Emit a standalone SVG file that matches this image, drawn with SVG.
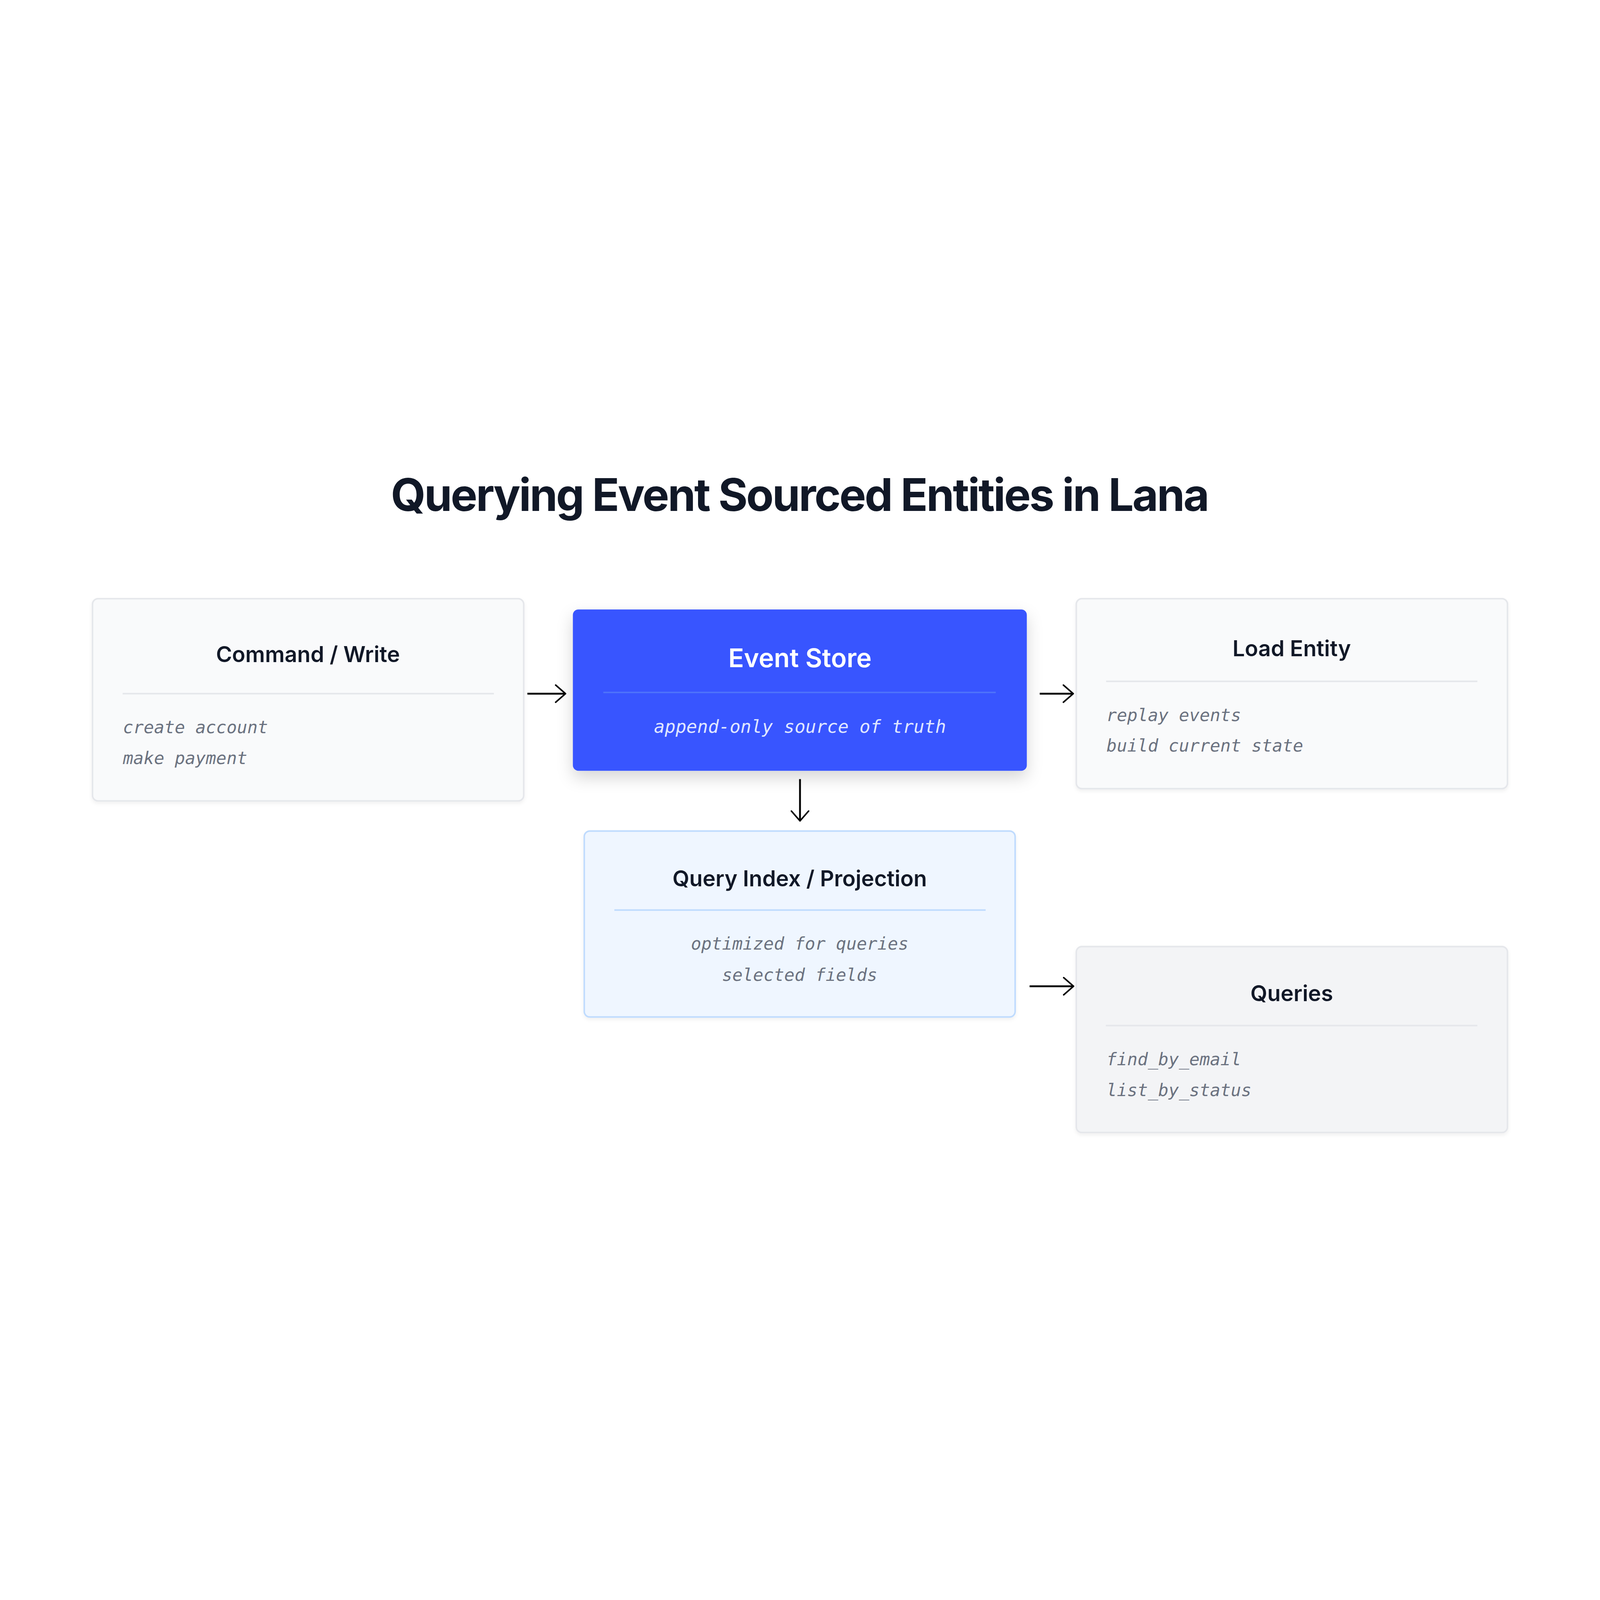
<svg xmlns="http://www.w3.org/2000/svg" width="5206" height="4096" viewBox="0 0 5206 4096" preserveAspectRatio="xMidYMid meet" style="width:100vw;height:100vh;display:block">
  <style>
    .title { font-family: Inter, "Liberation Sans", sans-serif; font-weight: 700; font-size: 146px; fill: #111827; letter-spacing: -4.8px; }
    .ntitle { font-family: Inter, "Liberation Sans", sans-serif; font-weight: 600; font-size: 71px; fill: #111827; text-anchor: middle; }
    .item { font-family: "DejaVu Sans Mono", "Liberation Mono", monospace; font-style: italic; font-size: 56px; fill: #6b7280; }
    .card { fill: #f9fafb; stroke: #e5e7eb; stroke-width: 5; }
    .div { stroke: #e5e7eb; stroke-width: 5; }
    .conn { stroke: #000000; stroke-width: 6; fill: none; }
    .head { stroke: #000000; stroke-width: 5; fill: none; stroke-linecap: round; stroke-linejoin: round; }
  </style>
  <defs>
    <filter id="sh" x="-10%" y="-10%" width="120%" height="130%">
      <feDropShadow dx="0" dy="6" stdDeviation="6" flood-color="#000000" flood-opacity="0.06"/>
    </filter>
    <filter id="shBig" x="-15%" y="-20%" width="130%" height="150%">
      <feDropShadow dx="0" dy="22" stdDeviation="26" flood-color="#000000" flood-opacity="0.16"/>
    </filter>
  </defs>
  <rect x="0" y="0" width="5206" height="4096" fill="#ffffff"/>

  <text class="title" x="2601" y="1108" text-anchor="middle">Querying Event Sourced Entities in Lana</text>

  <g id="connectors">
    <line class="conn" x1="1716" y1="1702" x2="1838" y2="1702"/>
    <polyline class="head" points="1808,1674 1840,1702 1808,1730"/>
    <line class="conn" x1="3383" y1="1702" x2="3490" y2="1702"/>
    <polyline class="head" points="3460,1674 3492,1702 3460,1730"/>
    <line class="conn" x1="2603" y1="1980" x2="2603" y2="2114"/>
    <polyline class="head" points="2575,2084 2603,2116 2631,2084"/>
    <line class="conn" x1="3350" y1="2654" x2="3491" y2="2654"/>
    <polyline class="head" points="3461,2626 3493,2654 3461,2682"/>
  </g>

  <g id="command-write">
    <rect class="card" x="301" y="1393" width="1403" height="658" rx="18" filter="url(#sh)"/>
    <text class="ntitle" x="1002" y="1599">Command / Write</text>
    <line class="div" x1="399" y1="1702" x2="1607" y2="1702"/>
    <text class="item" x="400" y="1831">create account</text>
    <text class="item" x="400" y="1931">make payment</text>
  </g>

  <g id="event-store">
    <rect x="1864" y="1428" width="1477" height="525" rx="18" fill="#3755ff" filter="url(#shBig)"/>
    <text class="ntitle" x="2603" y="1616" style="fill:#ffffff;font-size:84px">Event Store</text>
    <line x1="1963" y1="1698" x2="3240" y2="1698" stroke="#4f74fa" stroke-width="5"/>
    <text class="item" x="2603" y="1830" text-anchor="middle" style="fill:#e0e7ff;font-size:58.5px">append-only source of truth</text>
  </g>

  <g id="load-entity">
    <rect class="card" x="3502" y="1393" width="1403" height="618" rx="18" filter="url(#sh)"/>
    <text class="ntitle" x="4203" y="1580">Load Entity</text>
    <line class="div" x1="3599" y1="1662" x2="4807" y2="1662"/>
    <text class="item" x="3600" y="1791">replay events</text>
    <text class="item" x="3600" y="1890">build current state</text>
  </g>

  <g id="query-index">
    <rect x="1901" y="2149" width="1402" height="605" rx="18" fill="#eff6ff" stroke="#bfdbfe" stroke-width="5" filter="url(#sh)"/>
    <text class="ntitle" x="2602" y="2329">Query Index / Projection</text>
    <line x1="1999" y1="2406" x2="3207" y2="2406" stroke="#bfdbfe" stroke-width="5"/>
    <text class="item" x="2602" y="2535" text-anchor="middle">optimized for queries</text>
    <text class="item" x="2602" y="2636" text-anchor="middle">selected fields</text>
  </g>

  <g id="queries">
    <rect x="3502" y="2525" width="1403" height="605" rx="18" fill="#f3f4f6" stroke="#e5e7eb" stroke-width="5" filter="url(#sh)"/>
    <text class="ntitle" x="4203" y="2703">Queries</text>
    <line class="div" x1="3598" y1="2782" x2="4807" y2="2782"/>
    <text class="item" x="3600" y="2911">find_by_email</text>
    <text class="item" x="3600" y="3011">list_by_status</text>
  </g>
</svg>
